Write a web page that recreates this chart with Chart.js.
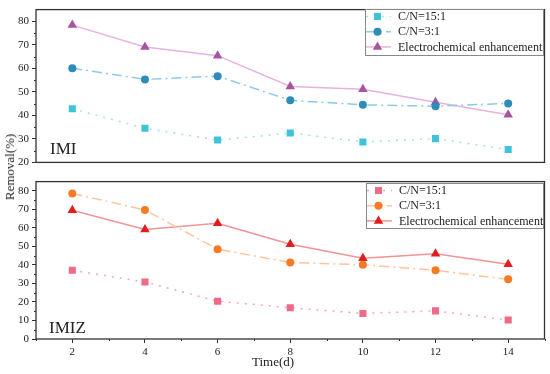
<!DOCTYPE html>
<html>
<head>
<meta charset="utf-8">
<script src="https://cdn.jsdelivr.net/npm/chart.js@4"></script>
<style>
  body { margin: 0; background: #fff; }
  #wrap { position: relative; width: 550px; height: 374px; overflow: hidden; }
  #top { position: absolute; left: 0; top: 0; }
  #bottom { position: absolute; left: 0; top: 172px; }
  #ytitle {
    position: absolute; left: 10px; top: 167px;
    transform: translate(-50%, -50%) rotate(-90deg);
    font: 13px "Liberation Serif", serif; color: #222; white-space: nowrap;
  }
</style>
</head>
<body>
<div id="wrap">
  <canvas id="top" width="550" height="172"></canvas>
  <canvas id="bottom" width="550" height="202"></canvas>
  <div id="ytitle">Removal(%)</div>
</div>
<script>
const days = [2, 4, 6, 8, 10, 12, 14]
const seriesNames = ['C/N=15:1', 'C/N=3:1', 'Electrochemical enhancement']
const imiTicks = [20, 30, 40, 50, 60, 70, 80]
const imizTicks = [0, 10, 20, 30, 40, 50, 60, 70, 80]

// IMI (top panel)
const imiCN15 = [42.8, 34.5, 29.5, 32.5, 28.7, 30.1, 25.5]
const imiCN3 = [60.1, 55.3, 56.7, 46.4, 44.5, 43.9, 45.1]
const imiElec = [78.4, 69.1, 65.4, 52.3, 51.1, 45.6, 40.3]

// IMIZ (bottom panel)
const imizCN15 = [37.1, 30.8, 20.4, 16.9, 13.8, 15.2, 10.3]
const imizCN3 = [78.6, 69.7, 48.5, 41.3, 40.1, 37.1, 32.2]
const imizElec = [69.5, 59.1, 62.5, 51.2, 43.6, 46.0, 40.4]

const serif = 'Liberation Serif'
const axisColor = '#333'

function toPoints (vals) {
  return days.map((d, i) => ({ x: d, y: vals[i] }))
}

function makeDatasets (vals, colors) {
  const styles = [
    { pointStyle: 'rect', pointRadius: 5, borderDash: [2, 6] },
    { pointStyle: 'circle', pointRadius: 4, borderDash: [10, 4, 2, 4] },
    { pointStyle: 'triangle', pointRadius: 5.5, borderDash: [] }
  ]
  return vals.map((v, i) => ({
    label: seriesNames[i],
    data: toPoints(v),
    borderColor: colors[i].line,
    backgroundColor: colors[i].mark,
    pointBackgroundColor: colors[i].mark,
    pointBorderColor: colors[i].mark,
    pointBorderWidth: 0,
    borderWidth: 1.5,
    tension: 0,
    ...styles[i]
  }))
}

// frame, minor ticks, legend, in-plot text
const decor = {
  id: 'decor',
  afterDraw (chart, args, opts) {
    const ctx = chart.ctx
    const a = chart.chartArea
    const x = chart.scales.x
    const y = chart.scales.y
    ctx.save()
    ctx.strokeStyle = axisColor
    ctx.lineWidth = 1
    // minor ticks
    for (let v = y.min + 5; v < y.max; v += 10) {
      const py = Math.round(y.getPixelForValue(v)) + 0.5
      ctx.beginPath(); ctx.moveTo(a.left - 2, py); ctx.lineTo(a.left, py); ctx.stroke()
    }
    if (opts.minorX) {
      for (let v = x.min; v <= x.max; v += 2) {
        const px = Math.round(x.getPixelForValue(v)) + 0.5
        ctx.beginPath(); ctx.moveTo(px, a.bottom); ctx.lineTo(px, a.bottom + 2); ctx.stroke()
      }
    }
    // frame
    ctx.lineWidth = 1.3
    ctx.strokeRect(a.left, a.top, a.right - a.left, a.bottom - a.top)

    // legend
    const lg = opts.legend
    ctx.fillStyle = '#fff'
    ctx.fillRect(lg.x, lg.y, lg.w, lg.h)
    ctx.strokeStyle = '#888'
    ctx.lineWidth = 1
    ctx.strokeRect(lg.x + 0.5, lg.y + 0.5, lg.w, lg.h)
    ctx.font = '12px "' + serif + '"'
    ctx.textBaseline = 'middle'
    chart.data.datasets.forEach((ds, i) => {
      const ry = lg.y + 7.5 + i * 15.2
      ctx.strokeStyle = ds.borderColor
      ctx.lineWidth = ds.borderWidth
      ctx.setLineDash(ds.borderDash)
      ctx.beginPath(); ctx.moveTo(lg.x + 1, ry); ctx.lineTo(lg.x + 26, ry); ctx.stroke()
      ctx.setLineDash([])
      ctx.fillStyle = ds.pointBackgroundColor
      Chart.helpers.drawPoint(ctx, { pointStyle: ds.pointStyle, radius: ds.pointRadius, borderWidth: 0 }, lg.x + 12.5, ry)
      ctx.fillStyle = '#222'
      ctx.fillText(ds.label, lg.x + 33, ry + 0.5)
    })

    // texts
    ctx.textBaseline = 'alphabetic'
    ctx.fillStyle = '#222'
    opts.texts.forEach(t => {
      ctx.font = t.font
      ctx.fillText(t.text, t.x, t.y)
    })
    ctx.restore()
  }
}

function makeOptions ({ yMin, yMax, yTicks, showX, xHeight, legend, texts }) {
  return {
    responsive: false,
    animation: false,
    layout: { padding: { top: 4, right: 4, left: 0, bottom: 0 } },
    plugins: {
      legend: { display: false },
      tooltip: { enabled: false },
      decor: { legend, texts, minorX: showX }
    },
    scales: {
      x: {
        type: 'linear',
        min: 1,
        max: 15,
        afterBuildTicks: s => { s.ticks = days.map(d => ({ value: d })) },
        afterFit: s => { s.height = xHeight },
        grid: { drawOnChartArea: false, drawTicks: showX, tickLength: 4, color: axisColor },
        border: { display: false },
        ticks: {
          display: showX,
          autoSkip: false,
          padding: 3,
          color: '#222',
          font: { family: serif, size: 11 },
          maxRotation: 0
        }
      },
      y: {
        min: yMin,
        max: yMax,
        afterBuildTicks: s => { s.ticks = yTicks.map(v => ({ value: v })) },
        afterFit: s => { s.width = 36 },
        grid: { drawOnChartArea: false, tickLength: 4, color: axisColor },
        border: { display: false },
        ticks: {
          autoSkip: false,
          padding: 3,
          color: '#222',
          font: { family: serif, size: 11 }
        }
      }
    }
  }
}

const topColors = [
  { line: '#a3deec', mark: '#3ec3d9' },
  { line: '#8ccbe6', mark: '#2e8cb8' },
  { line: '#e8b2e0', mark: '#a7559f' }
]
const bottomColors = [
  { line: '#f5a6b6', mark: '#ee6a86' },
  { line: '#fbc59d', mark: '#f77b24' },
  { line: '#f29494', mark: '#e21d1f' }
]

new Chart(document.getElementById('top').getContext('2d'), {
  type: 'line',
  data: { datasets: makeDatasets([imiCN15, imiCN3, imiElec], topColors) },
  options: makeOptions({
    yMin: 20,
    yMax: 85,
    yTicks: imiTicks,
    showX: false,
    xHeight: 5,
    legend: { x: 365, y: 9, w: 178, h: 46 },
    texts: [{ text: 'IMI', x: 50, y: 154, font: '17px "' + serif + '"' }]
  }),
  plugins: [decor]
})

new Chart(document.getElementById('bottom').getContext('2d'), {
  type: 'line',
  data: { datasets: makeDatasets([imizCN15, imizCN3, imizElec], bottomColors) },
  options: makeOptions({
    yMin: 0,
    yMax: 85,
    yTicks: imizTicks,
    showX: true,
    xHeight: 35,
    legend: { x: 366, y: 11, w: 177, h: 45 },
    texts: [
      { text: 'IMIZ', x: 49, y: 160.5, font: '17px "' + serif + '"' },
      { text: 'Time(d)', x: 252, y: 194, font: '13px "' + serif + '"' }
    ]
  }),
  plugins: [decor]
})
</script>
</body>
</html>
